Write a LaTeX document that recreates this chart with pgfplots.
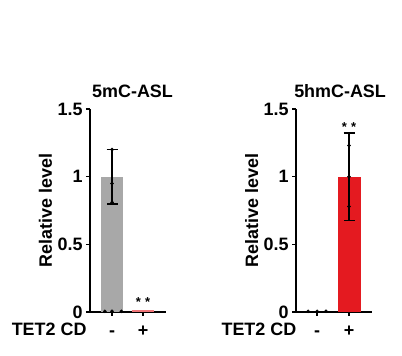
\documentclass[border=0pt]{standalone}
\usepackage{pgfplots}
\pgfplotsset{compat=1.18}
\usepackage{fontspec}
\setmainfont{Liberation Sans}
\definecolor{bargray}{RGB}{168,168,168}
\definecolor{barred}{RGB}{228,26,32}
\newcommand{\ff}{\bfseries\fontsize{18}{21}\selectfont}
\pgfplotsset{
  panel/.style={
    scale only axis, height=203bp, ymin=0, ymax=1.5,
    axis x line*=bottom, axis y line*=left,
    axis line style={line width=2bp},
    every tick/.style={line width=1.6bp, black},
    tick align=outside, major tick length=4bp,
    ytick={0,0.5,1,1.5}, yticklabels={0,0.5,1,1.5},
    xtick={0,1}, xticklabels={-,+},
    tick label style={font=\ff},
    xticklabel style={anchor=base, yshift=-20bp},
    /pgf/number format/assume math mode=true,
    title style={font=\ff, anchor=base, yshift=6bp},
    ylabel={Relative level},
    ylabel style={font=\ff, anchor=base, inner sep=0pt},
    clip=false,
  },
  dots/.style={only marks, mark=*, mark size=1.6bp, black},
  ebar/.style={draw=none, forget plot, mark=none,
    error bars/.cd, y dir=both, y explicit,
    error bar style={line width=1.7bp, black},
    error mark options={rotate=90, mark size=5.5bp, line width=1.7bp, black}},
}
\begin{document}
\begin{tikzpicture}
\path[use as bounding box] (0,0) rectangle (402bp,356bp);
% Left panel
\begin{axis}[panel, at={(90bp,44bp)}, anchor=south west, width=76bp,
  xmin=-0.71, xmax=1.74,
  title={5mC-ASL}, title style={at={(0.56,1)}},
  ylabel style={at={(axis description cs:-0.5,0.5)}}]
\addplot[ybar, bar width=22bp, fill=bargray, draw=none] coordinates {(0,1)};
\addplot[ybar, bar width=22bp, fill=barred!60, draw=none] coordinates {(1,0.012)};
\addplot[ebar] coordinates {(0,1) +- (0,0.2)};
\addplot[dots] coordinates {(0,1.2) (0,0.95) (0,0.81)};
\addplot[dots] coordinates {(-0.23,0.005) (0,0.005) (0.3,0.005)};
\node[font=\bfseries\fontsize{13}{15}\selectfont, anchor=center] at (axis cs:1,0.07) {*\,\,*};
\node[font=\ff, anchor=base east] at (axis description cs:0,-0.118) {TET2 CD};
\end{axis}
% Right panel
\begin{axis}[panel, at={(296bp,44bp)}, anchor=south west, width=76bp,
  xmin=-0.66, xmax=1.72,
  title={5hmC-ASL}, title style={at={(0.58,1)}},
  ylabel style={at={(axis description cs:-0.5,0.5)}}]
\addplot[ybar, bar width=23bp, fill=barred, draw=none] coordinates {(1,1)};
\addplot[ebar] coordinates {(1,1) +- (0,0.325)};
\addplot[dots] coordinates {(1,1.23) (1,1.0) (1,0.78)};
\addplot[dots] coordinates {(-0.28,0.005) (0,0.005) (0.28,0.005)};
\node[font=\bfseries\fontsize{13}{15}\selectfont, anchor=center] at (axis cs:1,1.37) {*\,\,*};
\node[font=\ff, anchor=base east] at (axis description cs:0.05,-0.118) {TET2 CD};
\end{axis}
\end{tikzpicture}
\end{document}
